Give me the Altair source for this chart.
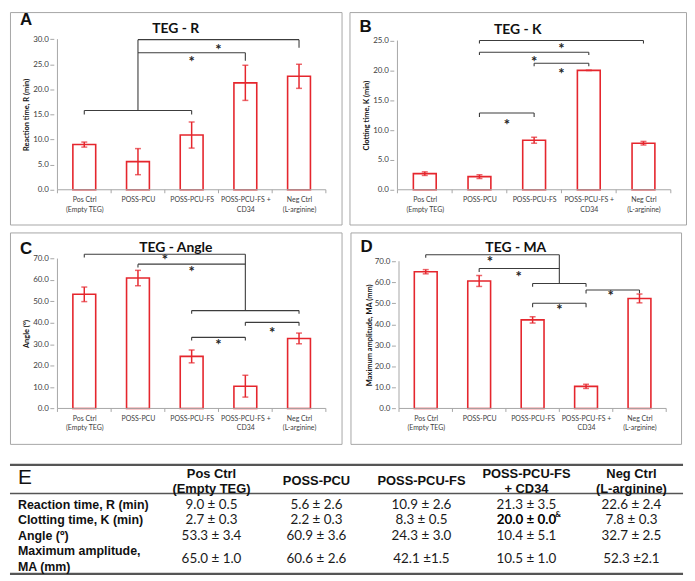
import json
import altair as alt
import pandas as pd

# ---------------- data ----------------
CATEGORY_LINES = [["Pos Ctrl", "(Empty TEG)"], ["POSS-PCU"], ["POSS-PCU-FS"],
                  ["POSS-PCU-FS +", "CD34"], ["Neg Ctrl", "(L-arginine)"]]

R_MEAN = [9.0, 5.6, 10.9, 21.3, 22.6]
R_SD = [0.5, 2.6, 2.6, 3.5, 2.4]
K_MEAN = [2.7, 2.2, 8.3, 20.0, 7.8]
K_SD = [0.3, 0.3, 0.5, 0.0, 0.3]
ANG_MEAN = [53.3, 60.9, 24.3, 10.4, 32.7]
ANG_SD = [3.4, 3.6, 3.0, 5.1, 2.5]
MA_MEAN = [65.0, 60.6, 42.1, 10.5, 52.3]
MA_SD = [1.0, 2.6, 1.5, 1.0, 2.1]

# significance brackets: (from category, to category, level, drop at start, drop at end)
A_BRACKETS = [(0, 2, 15.8, 15.0, 15.0), (1, 4, 29.9, None, 28.3), (1, 3, 27.3, None, 25.7)]
A_STEMS = [(1, 15.8, 29.9)]
A_STARS = [(2.5, 28.7), (2.0, 26.2)]

B_BRACKETS = [(1, 4, 25.0, 24.5, 24.5), (1, 3, 23.05, 22.6, 22.6),
              (2, 3, 21.2, 20.7, 20.7), (1, 2, 12.85, 12.2, 12.2)]
B_STEMS = []
B_STARS = [(2.5, 24.2), (2.0, 22.1), (2.5, 20.0), (1.5, 11.5)]

C_BRACKETS = [(0, 3, 72.0, 70.5, None), (1, 3, 67.4, 65.8, None), (2, 4, 45.7, 44.2, 44.2),
              (3, 4, 40.2, 38.6, 38.6), (2, 3, 33.2, 31.7, 31.7)]
C_STEMS = [(3, 45.7, 72.0)]
C_STARS = [(1.5, 71.2), (2.0, 65.6), (3.5, 37.1), (2.5, 31.7)]

D_BRACKETS = [(0, 2.5, 73.1, 71.7, None), (1, 2.5, 66.5, 64.9, None), (2, 3, 59.4, 57.9, 57.9),
              (3, 4, 56.3, 54.7, 54.7), (2, 3, 50.0, 48.1, 48.1)]
D_STEMS = [(2.5, 59.4, 73.1)]
D_STARS = [(1.2, 71.3), (1.74, 64.2), (3.46, 55.2), (2.5, 48.8)]

TABLE_HEADERS = [["Pos Ctrl", "(Empty TEG)"], ["POSS-PCU"], ["POSS-PCU-FS"],
                 ["POSS-PCU-FS", "+ CD34"], ["Neg Ctrl", "(L-arginine)"]]
TABLE_ROW_LABELS = [["Reaction time, R (min)"], ["Clotting time, K (min)"], ["Angle (º)"],
                    ["Maximum amplitude,", "MA (mm)"]]
TABLE_VALUES = [
    ["9.0 ± 0.5", "5.6 ± 2.6", "10.9 ± 2.6", "21.3 ± 3.5", "22.6 ± 2.4"],
    ["2.7 ± 0.3", "2.2 ± 0.3", "8.3 ± 0.5", "20.0 ± 0.0", "7.8 ± 0.3"],
    ["53.3 ± 3.4", "60.9 ± 3.6", "24.3 ± 3.0", "10.4 ± 5.1", "32.7 ± 2.5"],
    ["65.0 ± 1.0", "60.6 ± 2.6", "42.1 ±1.5", "10.5 ± 1.0", "52.3  ±2.1"],
]
BOLD_CELL = (1, 3)
BOLD_CELL_MARK = "&"

# ---------------- style ----------------
RED = "#e5262d"
AXIS_GRAY = "#a6a6a6"
BOX_GRAY = "#a6a6a6"
INK = "#404040"
BRACKET = "#3c3c3c"
FONT = "Lato, Carlito, sans-serif"
ARIAL = "Liberation Sans, Arial, sans-serif"


def panel(letter, title, ytitle, means, sds, brackets, stems, stars, g):
    W, H = g["W"], g["H"]
    cx0, dcx, y0, ppu = g["cx0"], g["dcx"], g["y0"], g["ppu"]
    ymax, step = g["ymax"], g["step"]
    xs = alt.Scale(domain=[-cx0 / dcx, (W - cx0) / dcx], nice=False, zero=False)
    ys = alt.Scale(domain=[(y0 - H) / ppu, y0 / ppu], nice=False, zero=False)
    n = len(CATEGORY_LINES)
    idx = list(range(n))
    df = pd.DataFrame({"c": idx, "m": means,
                       "lo": [m - s for m, s in zip(means, sds)],
                       "hi": [m + s for m, s in zip(means, sds)]})
    yaxis_px = cx0 - 0.5 * dcx
    ymid = y0 - ymax * ppu / 2.0
    yaxis = alt.Axis(values=list(range(0, ymax + 1, step)), format=".1f", grid=False,
                     domain=False, ticks=True, tickSize=4, tickColor=AXIS_GRAY,
                     labelFont=FONT, labelFontSize=8, labelColor=INK, labelPadding=1.5,
                     offset=-yaxis_px, title=ytitle, titleFont=FONT, titleFontSize=7.5,
                     titleFontWeight="bold", titleColor="#111111",
                     titleX=g["ytx"] - yaxis_px, titleY=ymid, titleAngle=270,
                     titleAlign="center", titleBaseline="middle", zindex=1)
    xaxis = alt.Axis(values=idx, labelExpr=json.dumps(CATEGORY_LINES) + "[datum.value]",
                     grid=False, domain=False, ticks=False, tickSize=0,
                     labelFont=FONT, labelFontSize=7, labelColor=INK, labelPadding=6,
                     labelLineHeight=9.5, labelBaseline="top", labelOverlap=False,
                     labelFlush=False, offset=-(H - y0), title=None, zindex=1)

    def X(f):
        return alt.X(f, scale=xs, axis=xaxis)

    def Y(f):
        return alt.Y(f, scale=ys, axis=yaxis)

    bars = alt.Chart(df).mark_bar(size=23, fill="white", stroke=RED, strokeWidth=1.6).encode(
        x=X("c:Q"), y=Y("m:Q"), y2=alt.datum(0))
    err = alt.Chart(df).mark_rule(color=RED, strokeWidth=1.5).encode(
        x=X("c:Q"), y=Y("lo:Q"), y2="hi:Q")
    cap_lo = alt.Chart(df).mark_tick(color=RED, orient="horizontal", size=6, thickness=1.5).encode(
        x=X("c:Q"), y=Y("lo:Q"))
    cap_hi = alt.Chart(df).mark_tick(color=RED, orient="horizontal", size=6, thickness=1.5).encode(
        x=X("c:Q"), y=Y("hi:Q"))

    lines = pd.DataFrame({"x": [-0.5, -0.5], "x2": [-0.5, n - 0.5],
                          "y": [0, 0], "y2": [ymax, 0]})
    axis_lines = alt.Chart(lines).mark_rule(color=AXIS_GRAY, strokeWidth=1).encode(
        x=X("x:Q"), x2="x2:Q", y=Y("y:Q"), y2="y2:Q")
    bounds = pd.DataFrame({"x": [i - 0.5 for i in range(n + 1)], "y": 0.0,
                           "y2": -3.5 / ppu})
    cat_ticks = alt.Chart(bounds).mark_rule(color=AXIS_GRAY, strokeWidth=1).encode(
        x=X("x:Q"), y=Y("y:Q"), y2="y2:Q")

    segs = []
    for xa, xb, lv, da, db in brackets:
        segs.append((xa, xb, lv, lv))
        if da is not None:
            segs.append((xa, xa, da, lv))
        if db is not None:
            segs.append((xb, xb, db, lv))
    for xc, ya, yb in stems:
        segs.append((xc, xc, ya, yb))
    seg_df = pd.DataFrame(segs, columns=["x", "x2", "y", "y2"])
    brk = alt.Chart(seg_df).mark_rule(color=BRACKET, strokeWidth=1.1).encode(
        x=X("x:Q"), x2="x2:Q", y=Y("y:Q"), y2="y2:Q")

    star_df = pd.DataFrame(stars, columns=["x", "y"])
    star_t = alt.Chart(star_df).mark_text(text="*", font=FONT, fontSize=15, fontWeight="bold",
                                          color="#222222", baseline="middle", dy=4).encode(
        x=X("x:Q"), y=Y("y:Q"))

    letter_t = alt.Chart(pd.DataFrame({"t": [letter]})).mark_text(
        font=ARIAL, fontSize=17, fontWeight="bold", color="#111111",
        align="left", baseline="alphabetic").encode(
        text="t:N", x=alt.value(10), y=alt.value(g["ly"]))
    title_t = alt.Chart(pd.DataFrame({"t": [title]})).mark_text(
        font=FONT, fontSize=14, fontWeight="bold", color="#111111",
        align="center", baseline="middle").encode(
        text="t:N", x=alt.value(W / 2.0), y=alt.value(g["ty"]))

    return alt.layer(bars, err, cap_lo, cap_hi, axis_lines, cat_ticks, brk, star_t,
                     letter_t, title_t).properties(
        width=W, height=H,
        view=alt.ViewBackground(stroke=BOX_GRAY, strokeWidth=1))


GA = dict(W=334, H=214, cx0=72, dcx=55.75, y0=179, ppu=5.057, ymax=30, step=5,
          ly=13, ty=17, ytx=17)
GB = dict(W=339, H=214, cx0=73, dcx=56.75, y0=179, ppu=6.012, ymax=25, step=5,
          ly=20, ty=18, ytx=17)
GC = dict(W=334, H=213, cx0=72, dcx=55.75, y0=177.3, ppu=2.157, ymax=70, step=10,
          ly=22, ty=16, ytx=17)
GD = dict(W=333, H=213, cx0=73, dcx=55.5, y0=177.3, ppu=2.119, ymax=70, step=10,
          ly=20, ty=16, ytx=19)

pa = panel("A", "TEG - R", "Reaction time, R (min)", R_MEAN, R_SD,
           A_BRACKETS, A_STEMS, A_STARS, GA)
pb = panel("B", "TEG - K", "Clotting time, K (min)", K_MEAN, K_SD,
           B_BRACKETS, B_STEMS, B_STARS, GB)
pc = panel("C", "TEG - Angle", "Angle (°)", ANG_MEAN, ANG_SD,
           C_BRACKETS, C_STEMS, C_STARS, GC)
pd_ = panel("D", "TEG - MA", "Maximum amplitude, MA (mm)", MA_MEAN, MA_SD,
            D_BRACKETS, D_STEMS, D_STARS, GD)

# ---------------- table ----------------
TW, TH = 680, 112
COL_PX0, COL_DPX = 203.0, 105.75     # first value column centre, column pitch
LINE_PX0, LINE_DPX = 10.0, 15.67     # first text line centre, line pitch
d0 = 1 - COL_PX0 / COL_DPX
txs = alt.Scale(domain=[d0, d0 + TW / COL_DPX], nice=False, zero=False)
l0 = -LINE_PX0 / LINE_DPX
tys = alt.Scale(domain=[l0, l0 + TH / LINE_DPX], nice=False, zero=False, reverse=True)
label_col = d0 + 8 / COL_DPX

head_lines = max(len(h) for h in TABLE_HEADERS)
hdr_rows = []
for i, h in enumerate(TABLE_HEADERS):
    for k, s in enumerate(h):
        hdr_rows.append({"x": i + 1, "y": (head_lines - len(h)) / 2.0 + k, "t": s})
lab_rows, val_rows, bold_rows = [], [], []
start = head_lines
for r, lab in enumerate(TABLE_ROW_LABELS):
    for k, s in enumerate(lab):
        lab_rows.append({"x": label_col, "y": start + k, "t": s})
    yc = start + (len(lab) - 1) / 2.0
    for c, v in enumerate(TABLE_VALUES[r]):
        rec = {"x": c + 1, "y": yc, "t": v}
        (bold_rows if (r, c) == BOLD_CELL else val_rows).append(rec)
    start += len(lab)
end_line = start

rule_df = pd.DataFrame({"x": [d0, d0, d0], "x2": [d0 + 678 / COL_DPX] * 3,
                        "y": [l0 + 1.2 / LINE_DPX, (head_lines - 1) + 0.28, end_line - 0.555],
                        "w": [2.2, 1.5, 2.2]})

t_rules = alt.Chart(rule_df).mark_rule(color="#555555").encode(
    x=alt.X("x:Q", scale=txs, axis=None), x2="x2:Q",
    y=alt.Y("y:Q", scale=tys, axis=None), strokeWidth=alt.StrokeWidth("w:Q", scale=None))
t_e = alt.Chart(pd.DataFrame({"x": [label_col], "y": [0.3], "t": ["E"]})).mark_text(
    font=ARIAL, fontSize=21, color="#111111", align="left", baseline="middle").encode(
    x=alt.X("x:Q", scale=txs, axis=None), y=alt.Y("y:Q", scale=tys, axis=None), text="t:N")
t_hdr = alt.Chart(pd.DataFrame(hdr_rows)).mark_text(
    font=ARIAL, fontSize=13, fontWeight="bold", color="#111111", align="center",
    baseline="middle").encode(
    x=alt.X("x:Q", scale=txs, axis=None), y=alt.Y("y:Q", scale=tys, axis=None), text="t:N")
t_lab = alt.Chart(pd.DataFrame(lab_rows)).mark_text(
    font=ARIAL, fontSize=12.5, fontWeight="bold", color="#111111", align="left",
    baseline="middle").encode(
    x=alt.X("x:Q", scale=txs, axis=None), y=alt.Y("y:Q", scale=tys, axis=None), text="t:N")
t_val = alt.Chart(pd.DataFrame(val_rows)).mark_text(
    font=FONT, fontSize=13.5, color="#1a1a1a", align="center", baseline="middle").encode(
    x=alt.X("x:Q", scale=txs, axis=None), y=alt.Y("y:Q", scale=tys, axis=None), text="t:N")
t_bold = alt.Chart(pd.DataFrame(bold_rows)).mark_text(
    font=FONT, fontSize=13.5, fontWeight="bold", color="#000000", align="center",
    baseline="middle").encode(
    x=alt.X("x:Q", scale=txs, axis=None), y=alt.Y("y:Q", scale=tys, axis=None), text="t:N")
t_sup = alt.Chart(pd.DataFrame(bold_rows).assign(t=BOLD_CELL_MARK)).mark_text(
    font=FONT, fontSize=8, fontWeight="bold", color="#000000", align="left",
    baseline="middle", dx=29, dy=-5).encode(
    x=alt.X("x:Q", scale=txs, axis=None), y=alt.Y("y:Q", scale=tys, axis=None), text="t:N")

table = alt.layer(t_rules, t_e, t_hdr, t_lab, t_val, t_bold, t_sup).properties(
    width=TW, height=TH, view=alt.ViewBackground(stroke="transparent", strokeWidth=0))

row1 = alt.hconcat(pa, pb, spacing=6)
row2 = alt.hconcat(pc, pd_, spacing=7)
chart = alt.vconcat(alt.vconcat(row1, row2, spacing=6), table, spacing=19).properties(
    padding=0, background="white").configure_view(strokeWidth=0)

chart.save("out.html", embed_options={"renderer": "svg", "actions": False})
